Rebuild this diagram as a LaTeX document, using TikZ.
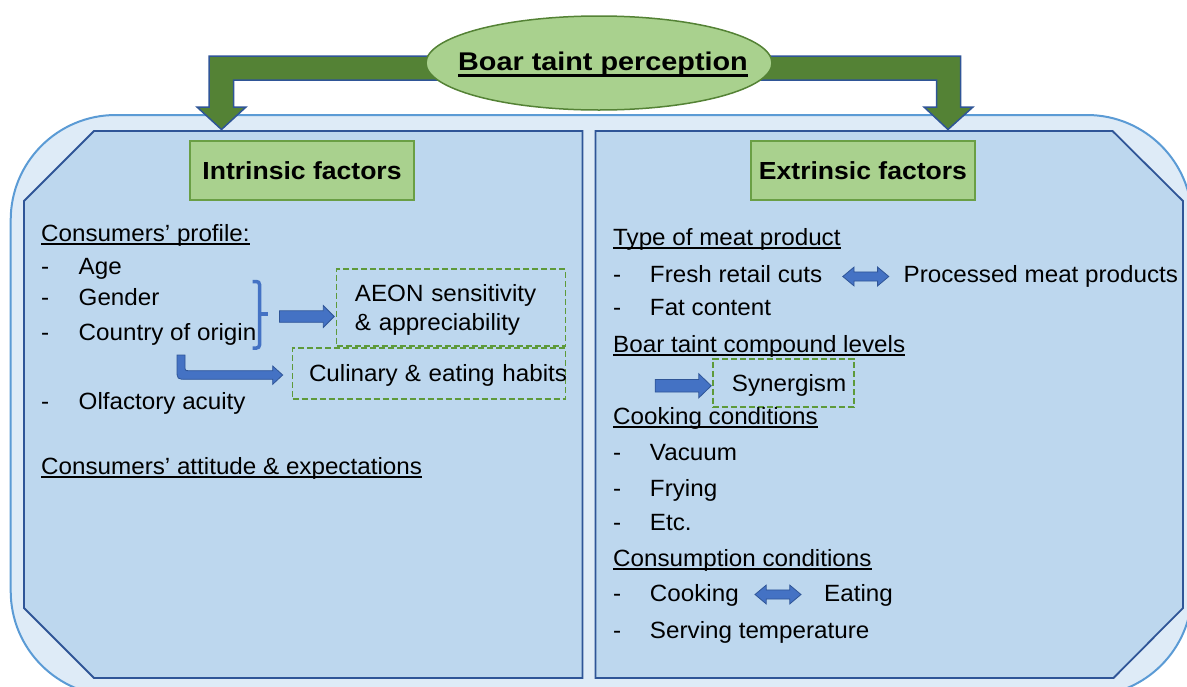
\documentclass[tikz,border=0pt]{standalone}
\usepackage{fontspec}
\setmainfont{Liberation Sans}
\newfontfamily\bodyfont[FakeStretch=1.03]{Liberation Sans}
\newfontfamily\headfont[FakeStretch=1.075]{Liberation Sans}
\newfontfamily\titlefont[FakeStretch=1.125]{Liberation Sans}
\usetikzlibrary{shapes.geometric,shapes.arrows}
\definecolor{outerfill}{HTML}{DEEBF7}
\definecolor{outerline}{HTML}{5B9BD5}
\definecolor{panelfill}{HTML}{BDD7EE}
\definecolor{panelline}{HTML}{2F5597}
\definecolor{greenfill}{HTML}{A9D18E}
\definecolor{greenline}{HTML}{548235}
\definecolor{boxline}{HTML}{6A9F45}
\definecolor{dashgreen}{HTML}{5E9A3A}
\definecolor{bigarrow}{HTML}{548235}
\definecolor{arrowfill}{HTML}{4472C4}
\definecolor{arrowline}{HTML}{2F5597}
\newcommand{\ulbody}[1]{\setbox0=\hbox{#1}\rlap{\rule[-3.5pt]{\wd0}{1.6pt}}\box0}
\newcommand{\ultitle}[1]{\setbox0=\hbox{#1}\rlap{\rule[-7pt]{\wd0}{2.7pt}}\box0}
\newcommand{\dashL}{\makebox[37.5pt][l]{-}}
\newcommand{\dashR}{\makebox[36.8pt][l]{-}}
\tikzset{
  txt/.style={inner sep=0, anchor=base west, font=\bodyfont\fontsize{23.5}{28.2}\selectfont},
  headbox/.style={draw=boxline, fill=greenfill, line width=1.8pt, minimum width=224pt, minimum height=59pt, inner sep=0,
    font=\headfont\bfseries\fontsize{24.7}{29}\selectfont},
  dashbox/.style={draw=dashgreen, line width=1.8pt, dash pattern=on 6pt off 3pt, anchor=north west, inner sep=0,
    align=left, text height=17pt, text depth=0pt, font=\bodyfont\fontsize{23.5}{28.2}\selectfont},
  panel/.style={fill=panelfill, draw=panelline, line width=1.8pt, line join=miter},
  blockarrow/.style={single arrow, fill=arrowfill, draw=arrowline, line width=0.8pt, inner xsep=0,
    single arrow head indent=0pt},
  dblarrow/.style={double arrow, fill=arrowfill, draw=arrowline, line width=0.8pt, inner xsep=0,
    double arrow head indent=0pt, double arrow tip angle=80, inner ysep=4.15pt, double arrow head extend=4.85pt,
    minimum height=46pt},
  bluebent/.style={fill=arrowfill, draw=arrowline, line width=0.8pt},
  bracestyle/.style={draw=arrowfill, line width=3.5pt},
}
\begin{document}
\begin{tikzpicture}[x=1pt, y=-1pt]
\useasboundingbox (0,0) rectangle (1187,686);
\clip (0,0) rectangle (1187,686);

% outer rounded frame
\draw[fill=outerfill, draw=outerline, line width=2pt, rounded corners=105pt] (10.7,115) rectangle (1192,696);

% panels
\draw[panel] (94,131) -- (582.5,131) -- (582.5,678) -- (94,678) -- (24,608) -- (24,201) -- cycle;
\draw[panel] (595.5,131) -- (1112.5,131) -- (1183,201) -- (1183,608) -- (1113.5,678) -- (595.5,678) -- cycle;

% big bent arrows from the title to the two panels
\draw[fill=bigarrow, draw=arrowline, line width=1.5pt, line join=miter]
  (209,56) -- (960.5,56) -- (960.5,107) -- (973,107) -- (948,129.5) -- (924,107) -- (936.5,107) -- (936.5,80)
  -- (233.5,80) -- (233.5,107) -- (246,107) -- (221.5,129.5) -- (197,107) -- (209,107) -- cycle;

% title ellipse
\node[ellipse, fill=greenfill, draw=greenline, line width=1.5pt, minimum width=346pt, minimum height=94pt, inner sep=0] (title) at (599,63) {};
\node[inner sep=0, anchor=base, font=\titlefont\bfseries\fontsize{25.6}{30}\selectfont] (titletext) at (603,70) {\ultitle{Boar taint perception}};

% heading boxes
\node[headbox] (intr) at (302,170.5) {Intrinsic factors};
\node[headbox] (extr) at (863,170.5) {Extrinsic factors};

% ---------- left panel ----------
\node[txt] (cp) at (41,241) {\ulbody{Consumers’ profile:}};
\node[txt] (age) at (41,274) {\dashL Age};
\node[txt] (gender) at (41,305.5) {\dashL Gender};
\node[txt] (country) at (41,340) {\dashL Country of origin};
\node[txt] (olf) at (41,409) {\dashL Olfactory acuity};
\node[txt] (att) at (41,474) {\ulbody{Consumers’ attitude \& expectations}};

\node[dashbox, minimum width=228.9pt, minimum height=76.7pt, text width=228.9pt, text depth=28.2pt] (aeon) at (335.6,268.3)
  {\hspace*{18.4pt}AEON sensitivity\\\hspace*{18.4pt}\& appreciability};
\node[dashbox, minimum width=272.9pt, minimum height=50.4pt, text width=272.9pt] (culin) at (291.6,347.3)
  {\hspace*{16.5pt}\mbox{Culinary\hspace{7pt}\& eating habits}};

% brace grouping age, gender, country
\draw[bracestyle, rounded corners=3pt] (252.5,281.5) -- (259.5,281.5) -- (259.5,348) -- (252.5,348);
\draw[bracestyle] (259.5,314) -- (267.5,314);

% arrow to AEON
\node[blockarrow, inner ysep=5.35pt, single arrow head extend=5.2pt, single arrow tip angle=90, minimum height=54.7pt] (a1) at (304,316.5) {};

% bent arrow to culinary habits
\draw[bluebent] (177,355) -- (185,355) -- (185,366) .. controls (185,370.7) .. (190,370.7) -- (272.7,370.7) -- (272.7,366)
  -- (282.7,375) -- (272.7,384.3) -- (272.7,379.3) -- (187,379.3) .. controls (177,379.3) .. (177,369.3) -- cycle;

% ---------- right panel ----------
\node[txt] (tmp) at (613,245) {\ulbody{Type of meat product}};
\node[txt] (fresh) at (613,282) {\dashR Fresh retail cuts};
\node[txt] (proc) at (903.4,282) {Processed meat products};
\node[dblarrow] (a2) at (865.8,276.5) {};
\node[txt] (fat) at (613,315) {\dashR Fat content};
\node[txt] (btc) at (613,352) {\ulbody{Boar taint compound levels}};
\node[dashbox, minimum width=140.8pt, minimum height=48.3pt, text width=140.8pt] (syn) at (712,357.7) {\hspace*{19pt}Synergism};
\node[blockarrow, inner ysep=5.85pt, single arrow head extend=5.8pt, single arrow tip angle=88, minimum height=56pt] (a3) at (680,385.8) {};
\node[txt] (cook) at (613,424) {\ulbody{Cooking conditions}};
\node[txt] (vac) at (613,460) {\dashR Vacuum};
\node[txt] (fry) at (613,496.5) {\dashR Frying};
\node[txt] (etc) at (613,530.5) {\dashR Etc.};
\node[txt] (cons) at (613,566.5) {\ulbody{Consumption conditions}};
\node[txt] (cooking) at (613,601.5) {\dashR Cooking};
\node[txt] (eat) at (824,601.5) {Eating};
\node[dblarrow] (a4) at (778,594.5) {};
\node[txt] (serv) at (613,638) {\dashR Serving temperature};
\end{tikzpicture}
\end{document}
